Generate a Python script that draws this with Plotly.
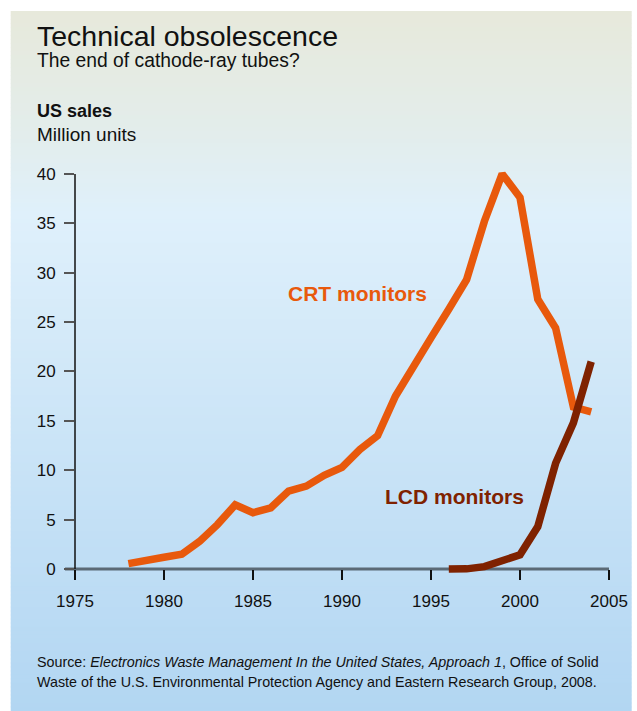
import plotly.graph_objects as go

# ---- data ----
crt_years = list(range(1978, 2005))
crt_sales = [0.55, 0.95, 1.2, 1.5, 2.8, 4.5, 6.5, 5.7, 6.2, 7.9, 8.4, 9.5, 10.3,
             12.1, 13.5, 17.5, 20.3, 23.4, 26.3, 29.3, 35.2, 40.0, 37.6, 27.3,
             24.4, 16.4, 15.9]
lcd_years = list(range(1996, 2005))
lcd_sales = [0.0, 0.02, 0.25, 0.95, 1.45, 4.3, 10.7, 14.8, 21.0]
y_ticks = [0, 5, 10, 15, 20, 25, 30, 35, 40]
x_ticks = [1975, 1980, 1985, 1990, 1995, 2000, 2005]

CRT_COLOR = "#e8590c"
LCD_COLOR = "#7f2200"
FONT = "Liberation Sans, Arial, sans-serif"

W, H = 637, 711
XL, XR = 75.3, 609.3
K = 9.8825
Y0PX = 569.3
YMIN, YMAX = -0.6, 41.0
BOT = Y0PX - YMIN * K
TOP = Y0PX - YMAX * K
PH = BOT - TOP
PW = XR - XL


def px(x):
    return (x - XL) / PW


def py(y):
    return (BOT - y) / PH


fig = go.Figure()
fig.add_trace(go.Scatter(x=crt_years, y=crt_sales, mode="lines",
                         line=dict(color=CRT_COLOR, width=7.5), hoverinfo="skip"))
fig.add_trace(go.Scatter(x=lcd_years, y=lcd_sales, mode="lines",
                         line=dict(color=LCD_COLOR, width=7.5), hoverinfo="skip"))

# background gradient panel
stops = [(11, (231, 233, 219)), (130, (227, 237, 235)), (215, (223, 240, 251)),
         (711, (178, 214, 242))]


def col_at(y):
    for (ya, ca), (yb, cb) in zip(stops[:-1], stops[1:]):
        if ya <= y <= yb:
            t = (y - ya) / (yb - ya)
            return "rgb(%d,%d,%d)" % tuple(round(a + (b - a) * t) for a, b in zip(ca, cb))
    return "rgb(%d,%d,%d)" % stops[-1][1]


shapes = []
step = 4
y = 11
while y < 711:
    y2 = min(y + step, 711)
    shapes.append(dict(type="rect", xref="paper", yref="paper", layer="below",
                       x0=px(11), x1=px(632), y0=py(y2 + 0.5), y1=py(y),
                       line=dict(width=0), fillcolor=col_at((y + y2) / 2)))
    y = y2
# axis lines
shapes.append(dict(type="line", xref="paper", yref="paper", layer="below",
                   x0=px(XL - 10), x1=1, y0=py(Y0PX), y1=py(Y0PX),
                   line=dict(color="#5b6a76", width=3)))
shapes.append(dict(type="line", xref="paper", yref="y", layer="below",
                   x0=0, x1=0, y0=0, y1=40, line=dict(color="#111111", width=1.5)))

ann = []


def text(x, y, s, size, color="#111111", anchor="left"):
    ann.append(dict(xref="paper", yref="paper", x=px(x), y=py(y), text=s,
                    showarrow=False, xanchor=anchor, yanchor="middle",
                    font=dict(family=FONT, size=size, color=color)))


text(35, 36.3, "Technical obsolescence", 28.5)
text(35, 60.8, "The end of cathode-ray tubes?", 19.3)
text(35, 111, "<b>US sales</b>", 18)
text(35, 135, "Million units", 19)
text(358, 294, "<b>CRT monitors</b>", 21, CRT_COLOR, anchor="center")
text(455, 496.7, "<b>LCD monitors</b>", 21, LCD_COLOR, anchor="center")
text(35, 662, "Source: <i>Electronics Waste Management In the United States, Approach 1</i>, Office of Solid", 14.3)
text(35, 682, "Waste of the U.S. Environmental Protection Agency and Eastern Research Group, 2008.", 14.3)

fig.update_layout(
    width=W, height=H,
    margin=dict(l=XL, r=W - XR, t=TOP, b=H - BOT, autoexpand=False),
    paper_bgcolor="white", plot_bgcolor="rgba(0,0,0,0)",
    showlegend=False, shapes=shapes, annotations=ann,
    font=dict(family=FONT, color="#111111"),
    xaxis=dict(range=[1975, 2005], tickvals=x_ticks, showgrid=False, zeroline=False,
               showline=False, ticks="outside", ticklen=10, tickwidth=1.5,
               tickcolor="#111111", tickfont=dict(size=17, family=FONT, color="#111111"),
               anchor="free", position=py(Y0PX), ticklabelstandoff=7),
    yaxis=dict(range=[YMIN, YMAX], tickvals=y_ticks, showgrid=False, zeroline=False,
               showline=False, ticks="outside", ticklen=10, tickwidth=1.5,
               tickcolor="#555555", tickfont=dict(size=17, family=FONT, color="#111111"),
               ticklabelstandoff=5),
)

fig.write_html("out.html", config={"displayModeBar": False},
               post_script="document.body.style.margin='0';")
